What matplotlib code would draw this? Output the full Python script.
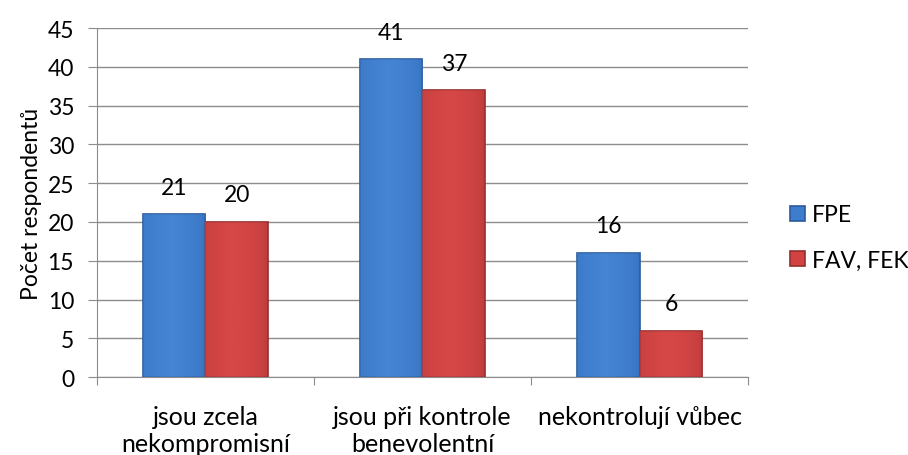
import numpy as np
import matplotlib.pyplot as plt
from matplotlib.colors import LinearSegmentedColormap

# data
categories = ['jsou zcela\nnekompromisní', 'jsou při kontrole\nbenevolentní', 'nekontrolují vůbec']
fpe = [21, 41, 16]
fav_fek = [20, 37, 6]
series_names = ['FPE', 'FAV, FEK']

plt.rcParams['font.family'] = ['Lato', 'DejaVu Sans']
fs = 16.5

fig = plt.figure(figsize=(9.08, 4.56), dpi=100)
ax = fig.add_axes([0.1068, 0.171, 0.717, 0.765])

x = np.arange(len(categories))
w = 0.29
b1 = ax.bar(x - w / 2, fpe, w, color='#3E7DCE', edgecolor='#2A5C9C', linewidth=1.2,
            label=series_names[0], zorder=3)
b2 = ax.bar(x + w / 2, fav_fek, w, color='#D34242', edgecolor='#952E2E', linewidth=1.2,
            label=series_names[1], zorder=3)

# soft shading on each bar, darker towards the sides
for bars, light, dark in [(b1, '#4A8AD8', '#2D64AE'), (b2, '#DA4B4B', '#A83232')]:
    cm = LinearSegmentedColormap.from_list('g', [dark, light])
    for r in bars:
        x0, y0 = r.get_x(), r.get_y()
        bw, bh = r.get_width(), r.get_height()
        grad = np.linspace(0, 1, 64).reshape(1, -1)
        grad = np.clip(1 - np.abs(grad - 0.45) / 0.55, 0, 1) ** 0.35
        im = ax.imshow(grad, cmap=cm, extent=[x0, x0 + bw, y0, y0 + bh], aspect='auto',
                       zorder=3.5, alpha=0.6)
        im.set_clip_path(r)

for bars, vals in [(b1, fpe), (b2, fav_fek)]:
    for r, v in zip(bars, vals):
        ax.annotate(str(v), (r.get_x() + r.get_width() / 2, v), xytext=(0, 12),
                    textcoords='offset points', ha='center', va='bottom', fontsize=fs)

ax.set_xlim(-0.5, 2.5)
ax.set_ylim(0, 45)
ax.set_yticks(range(0, 46, 5))
ax.yaxis.grid(True, color='#8C8C8C', linewidth=1)
ax.set_axisbelow(True)

ax.set_xticks([-0.5, 0.5, 1.5, 2.5])
ax.set_xticklabels([])
ax.set_xticks(x, minor=True)
ax.set_xticklabels(categories, minor=True, fontsize=18, linespacing=1.2)
ax.tick_params(axis='x', which='minor', length=0, pad=20)
ax.tick_params(axis='x', which='major', length=6, color='#8C8C8C')
ax.tick_params(axis='y', length=6.5, color='#8C8C8C', labelsize=fs, pad=10)

for s in ['top', 'right']:
    ax.spines[s].set_visible(False)
ax.spines['left'].set_color('#8C8C8C')
ax.spines['bottom'].set_color('#8C8C8C')

ax.set_ylabel('Počet respondentů', fontsize=fs)
ax.yaxis.set_label_coords(-0.084, 0.5)

ax.legend(loc='center left', bbox_to_anchor=(1.065, 0.40), frameon=False, fontsize=fs,
          handlelength=0.65, handleheight=0.65, handletextpad=0.3, labelspacing=1.05,
          borderpad=0, borderaxespad=0)

fig.savefig('out.png', dpi=100)
